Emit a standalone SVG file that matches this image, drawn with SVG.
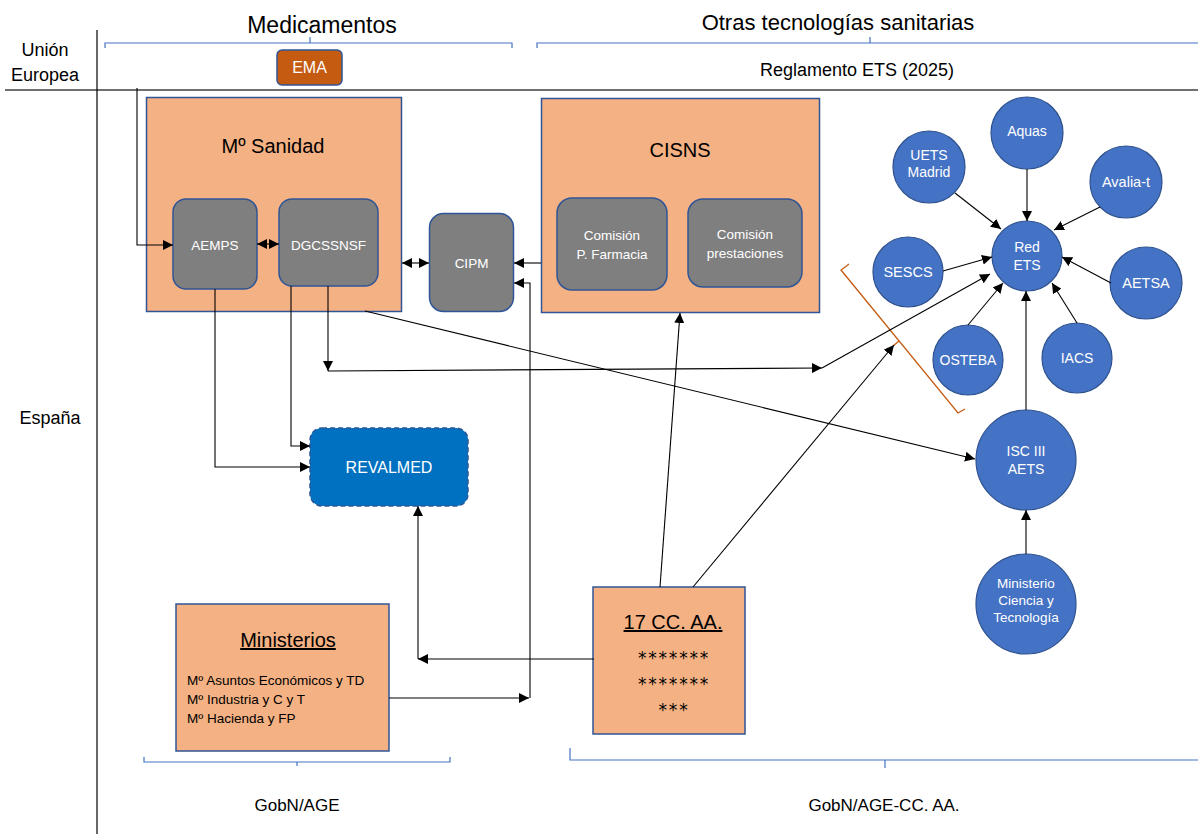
<svg xmlns="http://www.w3.org/2000/svg" width="1198" height="834" viewBox="0 0 1198 834">
<defs>
<marker id="ah" viewBox="0 0 10 10" refX="10" refY="5" markerWidth="10" markerHeight="10" markerUnits="userSpaceOnUse" orient="auto-start-reverse"><path d="M0,0 L10,5 L0,10 Z" fill="#000"/></marker>
<style>
text{font-family:"Liberation Sans",Arial,sans-serif}
.t{fill:#000}
.w{fill:#fff}
.box{fill:#F4B183;stroke:#2F5597;stroke-width:1.5}
.gray{fill:#7F7F7F;stroke:#2F5597;stroke-width:1.5}
.circ{fill:#4472C4;stroke:#2F528F;stroke-width:1.2}
.br{fill:none;stroke:#4472C4;stroke-width:1.2}
.c{fill:none;stroke:#000;stroke-width:1.1;marker-end:url(#ah)}
.c2{fill:none;stroke:#000;stroke-width:1.1;marker-start:url(#ah);marker-end:url(#ah)}
.ast{font-family:"DejaVu Sans",sans-serif;font-size:17px;letter-spacing:1.8px}
</style>
</defs>
<rect width="1198" height="834" fill="#fff"/>
<g id="frame">
<line x1="5" y1="90" x2="1198" y2="90" stroke="#707070" stroke-width="2"/>
<line x1="97" y1="30" x2="97" y2="834" stroke="#000" stroke-width="1.2"/>
<path class="br" d="M105,48 V43 H512 V48 M310,43 V37"/>
<path class="br" d="M537,48 V43 H1198 M870,43 V37"/>
<path class="br" d="M144,757 V762 H450 V757 M297,762 V766"/>
<path class="br" d="M570,748 V760 H1198 M885,760 V768"/>
<path d="M849,264 L841,270 L958,413 L965,409 M899,341 L893,346" fill="none" stroke="#C55A11" stroke-width="1.3"/>
</g>
<g id="labels">
<text x="45" y="56" font-size="18" text-anchor="middle" class="t">Unión</text>
<text x="45" y="81" font-size="18" text-anchor="middle" class="t">Europea</text>
<text x="50" y="424" font-size="18" text-anchor="middle" class="t">España</text>
<text x="322" y="33" font-size="23" text-anchor="middle" class="t">Medicamentos</text>
<text x="838" y="30" font-size="22" text-anchor="middle" class="t">Otras tecnologías sanitarias</text>
<text x="857" y="76" font-size="18" text-anchor="middle" class="t">Reglamento ETS (2025)</text>
<text x="297" y="811" font-size="17" text-anchor="middle" class="t">GobN/AGE</text>
<text x="884" y="811" font-size="17" text-anchor="middle" class="t">GobN/AGE-CC. AA.</text>
</g>
<g id="ema">
<rect x="277" y="50" width="65" height="35" rx="5" fill="#C55A11" stroke="#2F5597" stroke-width="1.5"/>
<text x="309.5" y="73" font-size="16" text-anchor="middle" class="w">EMA</text>
</g>
<g id="msanidad">
<rect class="box" x="146.5" y="97.5" width="255" height="214"/>
<text x="273" y="153" font-size="20" text-anchor="middle" class="t">Mº Sanidad</text>
</g>
<g id="aemps">
<rect class="gray" x="173" y="199" width="84" height="90" rx="13"/>
<text x="215" y="250" font-size="13.5" text-anchor="middle" class="w">AEMPS</text>
</g>
<g id="dgcssnsf">
<rect class="gray" x="279" y="199" width="99" height="87" rx="13"/>
<text x="328.5" y="250" font-size="13.5" text-anchor="middle" class="w">DGCSSNSF</text>
</g>
<g id="cipm">
<rect class="gray" x="429.5" y="213.5" width="84" height="98" rx="14"/>
<text x="471.5" y="268" font-size="13.5" text-anchor="middle" class="w">CIPM</text>
</g>
<g id="cisns">
<rect class="box" x="541.5" y="98.5" width="278" height="214"/>
<text x="680" y="157" font-size="20" text-anchor="middle" class="t">CISNS</text>
</g>
<g id="cpf">
<rect class="gray" x="557" y="198" width="110" height="92" rx="15"/>
<text x="612" y="240" font-size="13.5" text-anchor="middle" class="w">Comisión</text>
<text x="612" y="259" font-size="13.5" text-anchor="middle" class="w">P. Farmacia</text>
</g>
<g id="cprest">
<rect class="gray" x="688" y="199" width="114" height="88" rx="15"/>
<text x="745" y="239" font-size="13.5" text-anchor="middle" class="w">Comisión</text>
<text x="745" y="258" font-size="13.5" text-anchor="middle" class="w">prestaciones</text>
</g>
<g id="revalmed">
<rect x="310" y="428" width="158" height="78" rx="12" fill="#0070C0" stroke="#2F5597" stroke-width="1.5" stroke-dasharray="5,3"/>
<text x="389" y="473" font-size="16" text-anchor="middle" class="w">REVALMED</text>
</g>
<g id="ministerios">
<rect class="box" x="176" y="604" width="213" height="147"/>
<text x="288" y="647" font-size="20" text-anchor="middle" class="t" text-decoration="underline">Ministerios</text>
<text x="187" y="685" font-size="13.5" class="t">Mº Asuntos Económicos y TD</text>
<text x="187" y="704" font-size="13.5" class="t">Mº Industria y C y T</text>
<text x="187" y="723" font-size="13.5" class="t">Mº Hacienda y FP</text>
</g>
<g id="ccaa">
<rect class="box" x="593" y="587" width="152" height="147"/>
<text x="673" y="629" font-size="20" text-anchor="middle" class="t" text-decoration="underline">17 CC. AA.</text>
<text x="674" y="664" text-anchor="middle" class="t ast">*******</text>
<text x="674" y="690" text-anchor="middle" class="t ast">*******</text>
<text x="674" y="716" text-anchor="middle" class="t ast">***</text>
</g>
<g id="redets"><circle class="circ" cx="1027" cy="256" r="35"/><text x="1027" y="252" font-size="14" text-anchor="middle" class="w">Red</text><text x="1027" y="270" font-size="14" text-anchor="middle" class="w">ETS</text></g>
<g id="aquas"><circle class="circ" cx="1027" cy="133" r="36"/><text x="1027" y="136" font-size="14" text-anchor="middle" class="w">Aquas</text></g>
<g id="uets"><circle class="circ" cx="929" cy="167" r="36"/><text x="929" y="160" font-size="14" text-anchor="middle" class="w">UETS</text><text x="929" y="177" font-size="14" text-anchor="middle" class="w">Madrid</text></g>
<g id="avalia"><circle class="circ" cx="1126" cy="182" r="36"/><text x="1126" y="187" font-size="14.5" text-anchor="middle" class="w">Avalia-t</text></g>
<g id="sescs"><circle class="circ" cx="908" cy="272" r="35"/><text x="908" y="277" font-size="14.5" text-anchor="middle" class="w">SESCS</text></g>
<g id="aetsa"><circle class="circ" cx="1146" cy="283" r="36"/><text x="1146" y="288" font-size="14.5" text-anchor="middle" class="w">AETSA</text></g>
<g id="osteba"><circle class="circ" cx="968" cy="360" r="35"/><text x="968" y="365" font-size="14" text-anchor="middle" class="w">OSTEBA</text></g>
<g id="iacs"><circle class="circ" cx="1077" cy="358" r="35"/><text x="1077" y="363" font-size="14" text-anchor="middle" class="w">IACS</text></g>
<g id="isciii"><circle class="circ" cx="1026" cy="460" r="50"/><text x="1026" y="456" font-size="14" text-anchor="middle" class="w">ISC III</text><text x="1026" y="474" font-size="14" text-anchor="middle" class="w">AETS</text></g>
<g id="mcyt"><circle class="circ" cx="1026" cy="604" r="50"/><text x="1026" y="588" font-size="13.5" text-anchor="middle" class="w">Ministerio</text><text x="1026" y="605" font-size="13.5" text-anchor="middle" class="w">Ciencia y</text><text x="1026" y="622" font-size="13.5" text-anchor="middle" class="w">Tecnología</text></g>
<g id="connectors">
<path class="c" d="M137,88 V245 H173"/>
<path class="c2" d="M257,244 H279"/>
<path class="c2" d="M402,263 H429"/>
<path class="c" d="M541,263 H514"/>
<path class="c" d="M530,698 V283 H514"/>
<path class="c" d="M389,698 H529"/>
<path class="c" d="M215,289 V467 H310"/>
<path class="c" d="M291,286 V446 H310"/>
<path class="c" d="M328,286 V371"/>
<path class="c" d="M328,371 L822,368"/>
<path class="c" d="M822,368 L990,274"/>
<path class="c" d="M365,311 L975,459"/>
<path class="c" d="M594,659 H418"/>
<path class="c" d="M418,659 V506"/>
<path class="c" d="M660,587 L680,313"/>
<path class="c" d="M693,587 L894,345"/>
<path class="c" d="M1027,169 V221"/>
<path class="c" d="M955,193 L1001,229"/>
<path class="c" d="M1100,207 L1054,230"/>
<path class="c" d="M943,271 L992,257"/>
<path class="c" d="M1111,283 L1062,257"/>
<path class="c" d="M968,325 L1003,283"/>
<path class="c" d="M1077,323 L1052,283"/>
<path class="c" d="M1026,410 V291"/>
<path class="c" d="M1026,554 V510"/>
</g>
</svg>
